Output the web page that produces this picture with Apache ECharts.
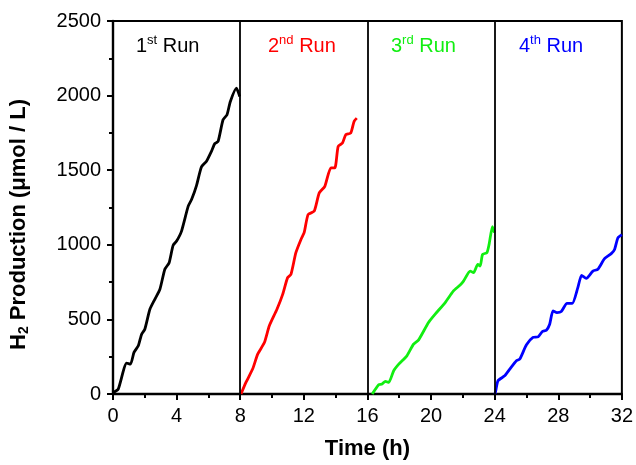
<!DOCTYPE html>
<html>
<head>
<meta charset="utf-8">
<script src="https://cdn.jsdelivr.net/npm/echarts@6/dist/echarts.min.js"></script>
<style>html,body{margin:0;padding:0;background:#fff}#c{width:636px;height:465px}</style>
</head>
<body>
<div id="c"></div>
<script>
// Time (h), H2 production (umol/L)
const run1 = [[0,0],[0.06,11],[0.33,33],[0.86,207],[1.1,200],[1.32,279],[1.59,323],[1.8,401],[2.0,434],[2.32,568],[2.63,635],[2.95,702],[3.26,836],[3.53,880],[3.78,996],[4.0,1025],[4.31,1092],[4.73,1259],[4.94,1303],[5.25,1397],[5.56,1522],[5.88,1560],[6.19,1626],[6.4,1678],[6.61,1693],[6.92,1838],[7.17,1872],[7.38,1961],[7.76,2050],[7.97,1994]];
const run2 = [[8.05,0],[8.36,78],[8.78,167],[9.1,267],[9.52,345],[9.83,457],[10.31,568],[10.67,668],[10.98,780],[11.19,802],[11.5,947],[11.82,1036],[12.02,1081],[12.27,1203],[12.65,1225],[12.97,1348],[13.32,1392],[13.7,1515],[13.95,1515],[14.16,1660],[14.43,1682],[14.64,1738],[14.95,1749],[15.16,1827],[15.33,1849]];
const run3 = [[16.3,0],[16.71,62],[16.92,67],[17.13,85],[17.34,78],[17.65,156],[17.97,200],[18.48,256],[18.9,334],[19.22,363],[19.84,479],[20.26,535],[20.89,613],[21.41,691],[21.83,731],[22.04,757],[22.46,824],[22.67,813],[22.94,869],[23.09,858],[23.24,936],[23.51,947],[23.65,1003],[23.86,1121],[23.99,1081]];
const run4 = [[24.02,0],[24.07,22],[24.21,89],[24.63,122],[24.95,167],[25.37,223],[25.58,234],[26.0,330],[26.41,379],[26.73,383],[27.0,419],[27.25,428],[27.46,468],[27.67,557],[27.92,546],[28.19,553],[28.55,608],[28.88,608],[29.23,713],[29.47,795],[29.76,775],[30.18,824],[30.49,836],[30.91,907],[31.33,941],[31.54,969],[31.75,1047],[32.0,1068]];
const dividers = [8, 16, 24];
const runLabels = [['1','st','#000000'],['2','nd','#ff0000'],['3','rd','#11ee11'],['4','th','#0000ff']];
const xTicks = [0,4,8,12,16,20,24,28,32];
const yTicks = [0,500,1000,1500,2000,2500];

const FONT = 'Liberation Sans, Arial, sans-serif';
const chart = echarts.init(document.getElementById('c'));
function lineSeries(data, color) {
  return {type:'line', data, smooth:0.2, showSymbol:false, symbol:'none',
    lineStyle:{color, width:2.8}, itemStyle:{color}, z:3};
}
const series = [
  lineSeries(run1,'#000000'),
  lineSeries(run2,'#ff0000'),
  lineSeries(run3,'#11ee11'),
  lineSeries(run4,'#0000ff')
];
series[0].markLine = {silent:true, symbol:'none', label:{show:false},
  lineStyle:{color:'#000', width:1.8, type:'solid'},
  data: dividers.map(d => ({xAxis:d}))};

const labelX = [136, 268, 391, 519];
const graphic = runLabels.map((r,i) => ({
  type:'text', left:labelX[i], top:34,
  style:{ text:'{n|'+r[0]+'}{s|'+r[1]+'}{n| Run}',
    rich:{ n:{fontSize:20, fontFamily:FONT, fill:r[2], verticalAlign:'bottom', lineHeight:22},
           s:{fontSize:13, fontFamily:FONT, fill:r[2], verticalAlign:'top', lineHeight:22, padding:[0,0,10,0]} } }
}));

chart.setOption({
  animation:false,
  backgroundColor:'#fff',
  grid:{left:113, right:13, top:21, bottom:70, show:true, borderColor:'#000', borderWidth:2},
  xAxis:{type:'value', min:0, max:32, interval:4,
    name:'Time (h)', nameLocation:'middle', nameGap:44,
    nameTextStyle:{fontFamily:FONT, fontSize:22, fontWeight:'bold', color:'#000'},
    axisLine:{show:true, onZero:false, lineStyle:{color:'#000', width:2.4}},
    axisTick:{show:true, length:6, lineStyle:{color:'#000', width:2}},
    minorTick:{show:true, splitNumber:2, length:4, lineStyle:{color:'#000', width:2}},
    splitLine:{show:false},
    axisLabel:{fontFamily:FONT, fontSize:20, color:'#000', margin:12,
      formatter: v => xTicks.includes(v) ? String(v) : ''}},
  yAxis:{type:'value', min:0, max:2500, interval:500,
    name:'{b|H}{sub|2}{b| Production (μmol / L)}', nameLocation:'middle', nameGap:82,
    nameTextStyle:{padding:[0,34,0,0], rich:{
      b:{fontFamily:FONT, fontSize:22, fontWeight:'bold', color:'#000'},
      sub:{fontFamily:FONT, fontSize:14, fontWeight:'bold', color:'#000', verticalAlign:'bottom', padding:[10,0,0,0]}}},
    axisLine:{show:true, lineStyle:{color:'#000', width:2.4}},
    axisTick:{show:true, length:6, lineStyle:{color:'#000', width:2}},
    minorTick:{show:true, splitNumber:2, length:4, lineStyle:{color:'#000', width:2}},
    splitLine:{show:false},
    axisLabel:{fontFamily:FONT, fontSize:20, color:'#000', margin:12,
      formatter: v => yTicks.includes(v) ? String(v) : ''}},
  graphic,
  series
});
</script>
</body>
</html>
